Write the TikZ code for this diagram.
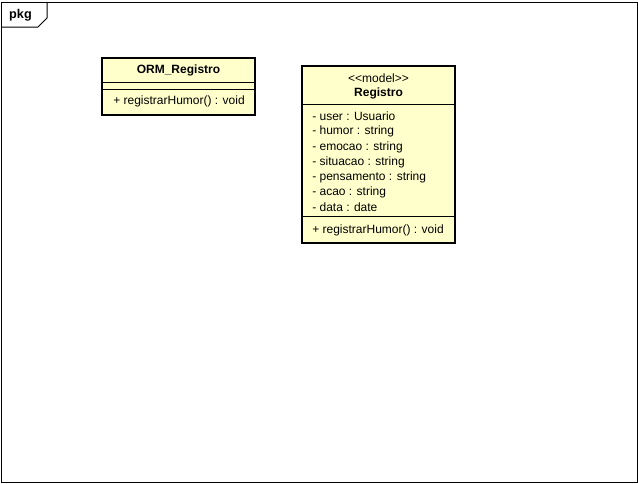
\documentclass[tikz,border=0pt]{standalone}
\usepackage{fontspec}
\setmainfont{Liberation Sans}
\usepackage{xcolor}
\definecolor{classfill}{rgb}{1,1,0.8}

\begin{document}
\begin{tikzpicture}[x=0.75pt,y=0.75pt,yscale=-1,xscale=1,
  txt/.style={inner sep=0.75pt,font=\fontsize{9}{10.8}\selectfont},
  classbox/.style={draw,line width=1.5pt,fill=classfill}]
\useasboundingbox (0,0) rectangle (638,483);

%Shape: Frame
\draw [line width=0.75pt] (1,2) -- (637,2) -- (637,482) -- (1,482) -- cycle ;
%Shape: Tab
\draw [line width=0.75pt] (1,27) -- (38,27) -- (47,18) -- (47,2) ;

%Shape: Rectangle [ORM_Registro]
\draw [classbox] (102,58) rectangle (255,115) ;
\draw [line width=0.75pt] (102,82) -- (255,82) ;
\draw [line width=0.75pt] (102,89) -- (255,89) ;
%Shape: Rectangle [Registro]
\draw [classbox] (302,66) rectangle (455,243) ;
\draw [line width=0.75pt] (302,104) -- (455,104) ;
\draw [line width=0.75pt] (302,216) -- (455,216) ;

% Text Node
\node (pkg) [txt,font=\fontsize{9.5}{11}\selectfont\bfseries] at (20.5,15) {pkg};
% Text Node
\node (ormname) [txt,font=\fontsize{9}{10.8}\selectfont\bfseries] at (178.5,70.5) {ORM\_Registro};
% Text Node
\node (ormop) [txt,anchor=west] at (112,101.5) {+ registrarHumor() : void};
% Text Node
\node (regstereo) [txt] at (378.5,78.5) {<{}<model>{}>};
% Text Node
\node (regname) [txt,font=\fontsize{9}{10.8}\selectfont\bfseries] at (378.5,93.5) {Registro};
% Text Node
\node (attuser) [txt,anchor=west] at (311,116.5) {- user : Usuario};
\node (atthumor) [txt,anchor=west] at (311,131.7) {- humor : string};
\node (attemocao) [txt,anchor=west] at (311,146.9) {- emocao : string};
\node (attsituacao) [txt,anchor=west] at (311,162.1) {- situacao : string};
\node (attpensamento) [txt,anchor=west] at (311,177.3) {- pensamento : string};
\node (attacao) [txt,anchor=west] at (311,192.5) {- acao : string};
\node (attdata) [txt,anchor=west] at (311,207.7) {- data : date};
% Text Node
\node (regop) [txt,anchor=west] at (311,230.5) {+ registrarHumor() : void};

\end{tikzpicture}
\end{document}
